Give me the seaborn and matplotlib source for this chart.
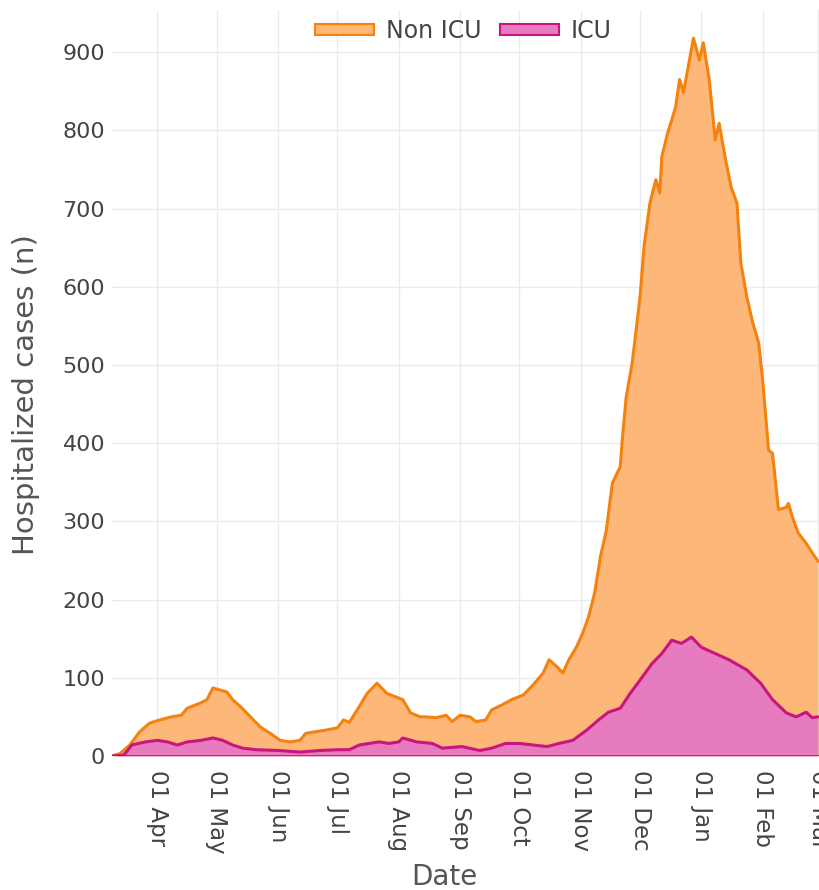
import pandas as pd
import matplotlib
matplotlib.use('Agg')
import matplotlib.pyplot as plt
import matplotlib.dates as mdates
from matplotlib.patches import Patch
import seaborn as sns

# 그림에서 읽어낸 값 (Non ICU 는 주황 선 = 누적 상단)
non_icu_dates = ['2020-03-09', '2020-03-13', '2020-03-18', '2020-03-23', '2020-03-28',
                 '2020-04-02', '2020-04-08', '2020-04-13', '2020-04-16', '2020-04-23',
                 '2020-04-26', '2020-04-29', '2020-05-03', '2020-05-06', '2020-05-09',
                 '2020-05-13', '2020-05-18', '2020-05-23', '2020-05-28', '2020-06-02',
                 '2020-06-07', '2020-06-12', '2020-06-15', '2020-06-20', '2020-06-25',
                 '2020-07-01', '2020-07-04', '2020-07-07', '2020-07-12', '2020-07-16',
                 '2020-07-21', '2020-07-26', '2020-07-31', '2020-08-03', '2020-08-07',
                 '2020-08-12', '2020-08-15', '2020-08-20', '2020-08-25', '2020-08-28',
                 '2020-09-01', '2020-09-06', '2020-09-09', '2020-09-14', '2020-09-17',
                 '2020-09-22', '2020-09-27', '2020-10-03', '2020-10-08', '2020-10-13',
                 '2020-10-16', '2020-10-20', '2020-10-23', '2020-10-26', '2020-10-30',
                 '2020-11-02', '2020-11-05', '2020-11-08', '2020-11-11', '2020-11-14',
                 '2020-11-17', '2020-11-21', '2020-11-22', '2020-11-24', '2020-11-27',
                 '2020-12-01', '2020-12-03', '2020-12-06', '2020-12-09', '2020-12-11',
                 '2020-12-12', '2020-12-15', '2020-12-17', '2020-12-19', '2020-12-21',
                 '2020-12-23', '2020-12-26', '2020-12-28', '2020-12-31', '2021-01-02',
                 '2021-01-05', '2021-01-08', '2021-01-10', '2021-01-13', '2021-01-16',
                 '2021-01-19', '2021-01-21', '2021-01-24', '2021-01-27', '2021-01-30',
                 '2021-02-01', '2021-02-04', '2021-02-06', '2021-02-09', '2021-02-13',
                 '2021-02-14', '2021-02-16', '2021-02-19', '2021-02-23', '2021-02-26',
                 '2021-03-01']
non_icu_cases = [0, 3, 14, 31, 42,
                 46, 50, 52, 61, 68,
                 72, 87, 84, 82, 72,
                 63, 50, 37, 29, 20,
                 18, 20, 29, 31, 33,
                 36, 46, 43, 63, 80,
                 93, 80, 75, 72, 55,
                 50, 50, 49, 52, 44,
                 52, 50, 44, 46, 59,
                 65, 72, 78, 91, 106,
                 123, 114, 106, 123, 140,
                 157, 178, 208, 255, 289,
                 349, 370, 404, 459, 502,
                 587, 651, 707, 737, 720,
                 766, 797, 813, 830, 865,
                 849, 890, 918, 890, 912,
                 865, 788, 809, 766, 728,
                 707, 630, 587, 554, 528,
                 481, 391, 387, 315, 318,
                 323, 306, 285, 272, 260,
                 249]

icu_dates = ['2020-03-09', '2020-03-15', '2020-03-19', '2020-03-26', '2020-04-01',
             '2020-04-06', '2020-04-11', '2020-04-16', '2020-04-23', '2020-04-29',
             '2020-05-04', '2020-05-09', '2020-05-14', '2020-05-21', '2020-06-01',
             '2020-06-12', '2020-06-22', '2020-07-01', '2020-07-07', '2020-07-12',
             '2020-07-17', '2020-07-22', '2020-07-27', '2020-08-01', '2020-08-03',
             '2020-08-10', '2020-08-18', '2020-08-23', '2020-09-02', '2020-09-11',
             '2020-09-17', '2020-09-24', '2020-10-01', '2020-10-08', '2020-10-15',
             '2020-10-21', '2020-10-28', '2020-11-04', '2020-11-10', '2020-11-15',
             '2020-11-21', '2020-11-26', '2020-12-01', '2020-12-07', '2020-12-12',
             '2020-12-17', '2020-12-22', '2020-12-27', '2021-01-01', '2021-01-08',
             '2021-01-15', '2021-01-24', '2021-01-31', '2021-02-06', '2021-02-13',
             '2021-02-18', '2021-02-23', '2021-02-26', '2021-03-01']
icu_cases = [0, 1, 14, 18, 20,
             18, 14, 18, 20, 23,
             20, 14, 10, 8, 7,
             5, 7, 8, 8, 14,
             16, 18, 16, 18, 23,
             18, 16, 10, 12, 7,
             10, 16, 16, 14, 12,
             16, 20, 33, 46, 56,
             61, 80, 97, 118, 131,
             148, 144, 152, 139, 131,
             123, 110, 93, 72, 55,
             50, 56, 49, 50]

y_ticks = [0, 100, 200, 300, 400, 500, 600, 700, 800, 900]

non_icu = pd.DataFrame({'Date': pd.to_datetime(non_icu_dates), 'cases': non_icu_cases})
icu = pd.DataFrame({'Date': pd.to_datetime(icu_dates), 'cases': icu_cases})

# 색상
orange_line = '#f5820f'
orange_fill = '#fdb779'
pink_line = '#c8157f'
pink_fill = '#e67cbf'

sns.set_style('whitegrid', {'grid.color': '#ebebeb', 'axes.edgecolor': 'white'})
plt.rcParams['font.family'] = ['DejaVu Sans']

fig = plt.figure(figsize=(8.2, 8.9), dpi=100)
ax = fig.add_axes([0.1366, 0.1506, 0.8634, 0.8382])

# Non ICU (주황 영역)
ax.fill_between(non_icu['Date'], non_icu['cases'], color=orange_fill, linewidth=0)
sns.lineplot(data=non_icu, x='Date', y='cases', color=orange_line, linewidth=2.2, ax=ax)
# ICU (분홍 영역)
ax.fill_between(icu['Date'], icu['cases'], color=pink_fill, linewidth=0)
sns.lineplot(data=icu, x='Date', y='cases', color=pink_line, linewidth=2.2, ax=ax)
ax.axhline(0, color='#7a3a68', linewidth=1.2)

ax.set_xlim(pd.Timestamp('2020-03-09'), pd.Timestamp('2021-03-02'))
ax.set_ylim(0, 954)
ax.set_yticks(y_ticks)
ax.xaxis.set_major_locator(mdates.MonthLocator(bymonth=range(1, 13)))
ax.xaxis.set_major_formatter(mdates.DateFormatter('%d %b'))
ax.tick_params(axis='x', labelrotation=270, labelsize=16.5, labelcolor='#444444', pad=10, length=0)
ax.tick_params(axis='y', labelsize=16, labelcolor='#444444', pad=5, length=0)
for lab in ax.get_xticklabels():
    lab.set_verticalalignment('top')
    lab.set_horizontalalignment('center')

ax.set_xlabel('Date', fontsize=20, color='#555555')
ax.xaxis.set_label_coords(0.47, -0.143)
ax.set_ylabel('Hospitalized cases (n)', fontsize=21, color='#555555')
ax.yaxis.set_label_coords(-0.102, 0.484)
ax.grid(True, color='#ebebeb', linewidth=1)
for s in ax.spines.values():
    s.set_visible(False)

handles = [Patch(facecolor=orange_fill, edgecolor=orange_line, linewidth=1.5, label='Non ICU'),
           Patch(facecolor=pink_fill, edgecolor=pink_line, linewidth=1.5, label='ICU')]
ax.legend(handles=handles, loc='upper center', bbox_to_anchor=(0.496, 1.016), ncol=2,
          frameon=False, fontsize=17, handlelength=2.5, handleheight=0.35,
          columnspacing=0.8, handletextpad=0.5, labelcolor='#444444')

fig.savefig('out.png', dpi=100)
